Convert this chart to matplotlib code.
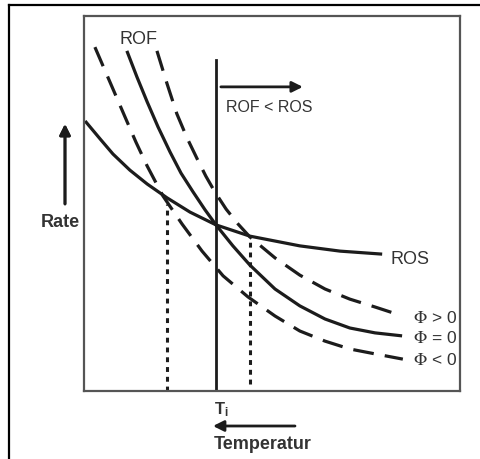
import numpy as np
import matplotlib.pyplot as plt
from matplotlib.lines import Line2D

plt.rcParams['font.family'] = ['Liberation Sans', 'DejaVu Sans']
plt.rcParams['mathtext.fontset'] = 'stix'

# --- schematic curves (x = temperature, y = rate, 0..10) ---
ros_x = [0.03, 0.43, 0.77, 1.22, 1.68, 2.21, 2.82, 3.51, 4.41, 5.74, 6.81, 7.93]
ros_y = [7.20, 6.72, 6.32, 5.89, 5.52, 5.15, 4.77, 4.43, 4.13, 3.87, 3.73, 3.65]

rof_x = [1.14, 1.41, 1.68, 1.97, 2.29, 2.58, 2.90, 3.22, 3.51, 3.96, 4.41,
         5.08, 5.74, 6.41, 7.07, 7.74, 8.46]
rof_y = [9.07, 8.37, 7.71, 7.04, 6.37, 5.81, 5.31, 4.83, 4.43, 3.87, 3.36,
         2.72, 2.27, 1.92, 1.68, 1.55, 1.47]

phi_pos_x = [1.94, 2.21, 2.47, 2.74, 3.01, 3.24, 3.48, 3.78, 4.10, 4.41,
             5.08, 5.74, 6.41, 7.07, 7.74, 8.32]
phi_pos_y = [9.07, 8.19, 7.39, 6.75, 6.19, 5.73, 5.31, 4.85, 4.45, 4.11,
             3.55, 3.09, 2.72, 2.45, 2.24, 2.05]

phi_neg_x = [0.29, 0.69, 1.09, 1.38, 1.68, 2.10, 2.61, 3.14, 3.70, 4.36,
             5.08, 5.74, 6.41, 7.07, 7.74, 8.48]
phi_neg_y = [9.17, 8.24, 7.31, 6.64, 6.00, 5.20, 4.45, 3.73, 3.07, 2.51,
             2.00, 1.60, 1.33, 1.12, 0.99, 0.85]

t_i = 3.51
t_i_top = 8.83
dot_x = [2.21, 4.41]
dot_top = [5.0, 4.0]
dot_bottom = [0.0, 0.2]

phi_labels = [r'$\mathrm{\Phi}$ > 0', r'$\mathrm{\Phi}$ = 0', r'$\mathrm{\Phi}$ < 0']
phi_label_y = [1.97, 1.44, 0.85]

W, H = 481, 460
line_c = '#1c1c1c'
text_c = '#333333'

fig = plt.figure(figsize=(W / 100, H / 100), dpi=100)
ax = fig.add_axes([84 / W, (H - 392) / H, (460 - 84) / W, (392 - 17) / H])
ax.set_xlim(0, 10)
ax.set_ylim(0, 10)
ax.set_xticks([])
ax.set_yticks([])
for s in ax.spines.values():
    s.set_color('#555555')
    s.set_linewidth(1.6)

lw = 2.3
ax.plot(ros_x, ros_y, color=line_c, lw=lw, solid_capstyle='butt')
ax.plot(rof_x, rof_y, color=line_c, lw=lw, solid_capstyle='butt')
ax.plot(phi_pos_x, phi_pos_y, color=line_c, lw=lw, dashes=(6.5, 3.5))
ax.plot(phi_neg_x, phi_neg_y, color=line_c, lw=lw, dashes=(6.5, 3.5))

ax.plot([t_i, t_i], [0, t_i_top], color=line_c, lw=2.0)
for x, top, bot in zip(dot_x, dot_top, dot_bottom):
    ax.plot([x, x], [bot, top], color=line_c, lw=2.2, dashes=(1.6, 1.6))

# ROF < ROS arrow
ax.annotate('', xy=(5.82, 8.11), xytext=(3.64, 8.11),
            arrowprops=dict(arrowstyle='-|>', color=line_c, lw=2.0,
                            mutation_scale=16, shrinkA=0, shrinkB=0))
ax.text(3.78, 7.6, 'ROF < ROS', fontsize=11.5, color=text_c, va='center', ha='left')
ax.text(1.44, 9.39, 'ROF', fontsize=13, color=text_c, va='center', ha='center')
ax.text(8.14, 3.52, 'ROS', fontsize=13, color=text_c, va='center', ha='left')
for lab, y in zip(phi_labels, phi_label_y):
    ax.text(8.75, y, lab, fontsize=12.5, color=text_c, va='center', ha='left')

# --- outer frame ---
fig.add_artist(Line2D([9 / W, 1], [1 - 6 / H, 1 - 6 / H], color='black', lw=1.6))
fig.add_artist(Line2D([9 / W, 9 / W], [0, 1 - 6 / H], color='black', lw=1.6))


def fx(px):
    return px / W


def fy(py):
    return 1 - py / H


# Rate arrow and label
fig.add_artist(plt.annotate('', xy=(fx(65), fy(125)), xytext=(fx(65), fy(205)),
                            xycoords='figure fraction', textcoords='figure fraction',
                            arrowprops=dict(arrowstyle='-|>', color=line_c, lw=2.0,
                                            mutation_scale=16, shrinkA=0, shrinkB=0)))
fig.text(fx(60), fy(223), 'Rate', fontsize=13, fontweight='bold', color=text_c,
         ha='center', va='center')

# temperature arrow and labels
fig.text(fx(214), fy(410), r'T$_\mathregular{i}$', fontsize=12, fontweight='bold',
         color=text_c, ha='left', va='center')
ax.annotate('', xy=(fx(213), fy(427)), xytext=(fx(295), fy(427)),
            xycoords='figure fraction', textcoords='figure fraction',
            arrowprops=dict(arrowstyle='-|>', color=line_c, lw=2.0,
                            mutation_scale=16, shrinkA=0, shrinkB=0),
            annotation_clip=False)
fig.text(fx(214), fy(445), 'Temperatur', fontsize=13, fontweight='bold', color=text_c,
         ha='left', va='center')

fig.savefig('out.png', dpi=100)
